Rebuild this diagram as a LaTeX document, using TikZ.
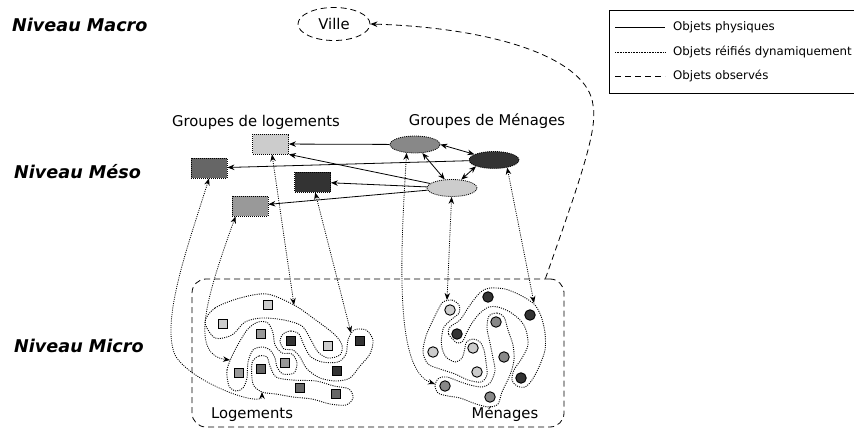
\documentclass[tikz,border=0pt]{standalone}
\usepackage{fontspec}
\setmainfont{DejaVu Sans}
\usetikzlibrary{shapes.geometric,arrows.meta}
\definecolor{cLight}{HTML}{CCCCCC}
\definecolor{cMed}{HTML}{999999}
\definecolor{cEll}{HTML}{888888}
\definecolor{cDk}{HTML}{666666}
\definecolor{cDark}{HTML}{333333}
\tikzset{
  lvl/.style={font=\fontsize{17.6}{20}\selectfont\bfseries\itshape, anchor=west, inner sep=0pt},
  lbl/.style={font=\fontsize{14.8}{17}\selectfont, inner sep=0pt},
  leg/.style={font=\fontsize{11.8}{14}\selectfont, anchor=west, inner sep=0pt},
  dots/.style={dash pattern=on 1pt off 1.2pt, line width=0.8pt},
  dsh/.style={dash pattern=on 6pt off 4pt, line width=0.8pt},
  grp/.style={draw, dash pattern=on 1pt off 1pt, line width=0.8pt, fill=#1, minimum width=36pt, minimum height=20pt, inner sep=0pt},
  gel/.style={ellipse, draw, dash pattern=on 1pt off 1pt, line width=0.8pt, fill=#1, minimum width=50pt, minimum height=17pt, inner sep=0pt},
  sq/.style={draw, line width=0.9pt, fill=#1, minimum size=9.5pt, inner sep=0pt},
  ci/.style={circle, draw, line width=0.9pt, fill=#1, minimum size=10.5pt, inner sep=0pt},
  arr/.style={-{Stealth[length=7pt,width=5.5pt]}, line width=0.8pt},
  darr/.style={{Stealth[length=7pt,width=5.5pt]}-{Stealth[length=7pt,width=5.5pt]}, line width=0.8pt},
  outl/.style={dash pattern=on 1pt off 1.2pt, line width=0.9pt},
}
\begin{document}
\begin{tikzpicture}[x=1pt,y=-1pt]
\useasboundingbox (0,0) rectangle (854,430);

% level labels
\node[lvl] (lmacro) at (12,25) {Niveau Macro};
\node[lvl] (lmeso) at (14,172) {Niveau Méso};
\node[lvl] (lmicro) at (14,346) {Niveau Micro};

% legend
\draw[line width=0.8pt] (854,10) -- (609,10) -- (609,93) -- (854,93);
\coordinate (la1) at (615,27); \coordinate (lb1) at (665,27);
\coordinate (la2) at (615,52); \coordinate (lb2) at (665,52);
\coordinate (la3) at (615,76); \coordinate (lb3) at (665,76);
\draw[line width=0.8pt] (la1) -- (lb1);
\draw[dash pattern=on 0.6pt off 1pt, line width=0.7pt] (la2) -- (lb2);
\draw[dsh] (la3) -- (lb3);
\node[leg] (t1) at (673,27) {Objets physiques};
\node[leg] (t2) at (673,52) {Objets réifiés dynamiquement};
\node[leg] (t3) at (673,76) {Objets observés};

% macro
\node[ellipse, draw, dsh, minimum width=72pt, minimum height=33pt, inner sep=0pt, font=\fontsize{14.8}{17}\selectfont] (ville) at (334,24) {Ville};

% meso labels
\node[lbl] (glog) at (256,122) {Groupes de logements};
\node[lbl] (gmen) at (487,121) {Groupes de Ménages};

% meso rects
\node[grp=cLight] (lr) at (270.5,144) {};
\node[grp=cDk] (dmr) at (209,168) {};
\node[grp=cDark] (dr) at (312.5,182) {};
\node[grp=cMed] (mr) at (250,206) {};

% meso ellipses
\node[gel=cEll] (me) at (415,144.5) {};
\node[gel=cDark] (de) at (494,160) {};
\node[gel=cLight] (le) at (452,188) {};

% meso arrows
\draw[arr] (me) -- (lr);
\draw[arr] (de) -- (dmr);
\draw[arr] (le) -- (lr.south east);
\draw[arr] (le) -- (dr);
\draw[arr] (le) -- (mr);
\draw[darr] (me.east) -- (de);
\draw[darr] (me) -- (le);
\draw[darr] (de.south west) -- (le);

% micro box
\node[draw, dsh, rounded corners=14pt, minimum width=372pt, minimum height=148pt, inner sep=0pt] (mb) at (378,353) {};
\node[lbl] (tlog) at (252,415) {Logements};
\node[lbl] (tmen) at (505,414) {Ménages};

% link box -> ville
\draw[dsh, -{Stealth[length=7pt,width=5.5pt]}] ([xshift=-19pt]mb.north east) .. controls (580,180) and (598,130) .. (593,105) .. controls (588,60) and (500,28) .. (ville.east);

% ---- square groups outlines
\draw[outl] plot[smooth cycle] coordinates {(205,322) (215,308) (240,298) (267,294) (294,305) (313,318) (334,334) (342,345) (340,355) (328,358) (318,352) (311,340) (302,326) (284,320) (262,318) (245,322) (232,335) (215,338)};
\draw[outl] plot[smooth cycle] coordinates {(283,334) (291,331) (299,334) (303,343) (310,356) (322,362) (338,362) (346,354) (348,340) (354,330) (366,330) (373,340) (370,354) (360,366) (350,378) (336,381) (320,378) (307,369) (300,357) (293,350) (284,349) (280,341)};
\draw[outl] plot[smooth cycle] coordinates {(229,386) (227,370) (234,352) (247,330) (258,322) (268,323) (273,333) (275,345) (282,353) (292,354) (297,363) (294,373) (283,374) (277,367) (275,358) (270,350) (262,347) (253,350) (248,362) (247,378) (243,388) (236,391)};
\draw[outl] plot[smooth cycle] coordinates {(252,363) (259,356) (267,357) (270,366) (276,377) (292,380) (316,381) (334,386) (349,389) (353,398) (346,405) (330,404) (312,399) (293,397) (276,394) (262,392) (253,384)};

% ---- circle groups outlines
\draw[outl] plot[smooth cycle] coordinates {(457,343) (448.5,334) (450,327) (460,320) (468,308) (476,297) (482,291) (490,288) (505,289) (520,295) (534,304) (541,316) (545,333) (545,350) (539,367) (532,380) (525,387) (517,386) (512,380) (514,370) (522,358) (528,345) (526,330) (521,321) (510,312) (498,307) (489,307) (480,313) (472,323) (466,334) (463,341)};
\draw[outl] plot[smooth cycle] coordinates {(443,302) (452,300) (459,305) (459,313) (452,319) (444,327) (441.5,338) (442,348) (446,357) (455,362) (462,358) (464.5,350) (466.5,342) (473,339) (480,342) (484,350) (486,362) (487,375) (481,382) (468,380) (455,374) (440,369) (428,364) (423,352) (426,336) (433,320) (439,308)};
\draw[outl] plot[smooth cycle] coordinates {(489,316) (497,313) (504,317) (508,330) (513,345) (514,360) (510,375) (502,392) (498,404) (489,407) (476,404) (460,398) (448,396) (438,393) (435,385) (439,378) (447,377) (458,381) (470,385) (482,387) (490,383) (495,371) (493,358) (490,343) (487,328)};

% squares
\node[sq=cLight] (s1) at (268,305) {};
\node[sq=cLight] (s2) at (223,324) {};
\node[sq=cLight] (s5) at (328,346) {};
\node[sq=cDark] (s4) at (291,341) {};
\node[sq=cDark] (s6) at (360,341) {};
\node[sq=cDark] (s10) at (337,371) {};
\node[sq=cMed] (s3) at (261,334) {};
\node[sq=cMed] (s7) at (239,373) {};
\node[sq=cMed] (s9) at (285,363) {};
\node[sq=cDk] (s8) at (261,369) {};
\node[sq=cDk] (s11) at (300,388) {};
\node[sq=cDk] (s12) at (336,394) {};

% circles
\node[ci=cLight] (c1) at (450,310) {};
\node[ci=cDark] (c2) at (488,297) {};
\node[ci=cDark] (c3) at (530,315) {};
\node[ci=cEll] (c4) at (496,322) {};
\node[ci=cDark] (c5) at (457,334) {};
\node[ci=cLight] (c6) at (473,348) {};
\node[ci=cLight] (c7) at (433,352) {};
\node[ci=cEll] (c8) at (504,357) {};
\node[ci=cLight] (c9) at (477,372) {};
\node[ci=cDark] (c10) at (521,378) {};
\node[ci=cEll] (c11) at (445,386) {};
\node[ci=cEll] (c12) at (490,397) {};

% arrow end points on groups
\coordinate (lsA) at (294,305);
\coordinate (dsA) at (351,333);
\coordinate (msA) at (230,360);
\coordinate (ksA) at (262,392);
\coordinate (lcA) at (447,300);
\coordinate (dcA) at (534,303);
\coordinate (mcA) at (435,384);

% meso-micro dotted links
\draw[darr, dots] (lr) -- (lsA);
\draw[darr, dots] (dr) -- (dsA);
\draw[darr, dots] ([xshift=4pt]mr.south west) .. controls (205,300) and (190,355) .. (msA);
\draw[darr, dots] (dmr.south) .. controls (190,240) and (160,320) .. (175,355) .. controls (190,382) and (262,408) .. (ksA);
\draw[darr, dots] (le) -- (lcA);
\draw[darr, dots] (de.-30) -- (dcA);
\draw[darr, dots] (me.-135) .. controls (400,260) and (395,370) .. (mcA);
\end{tikzpicture}
\end{document}
